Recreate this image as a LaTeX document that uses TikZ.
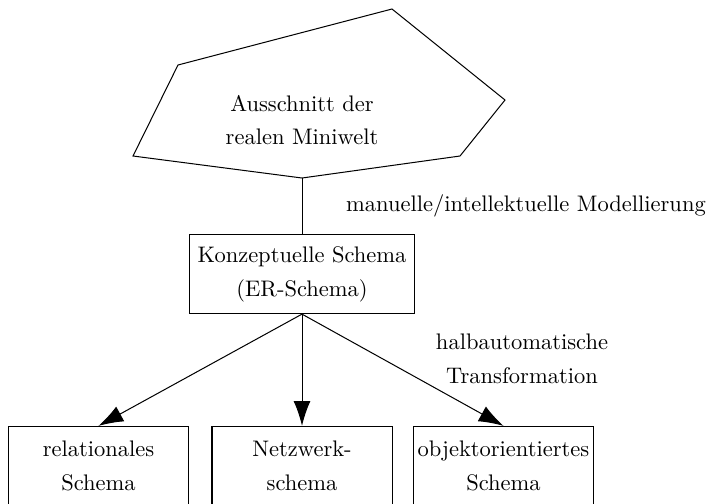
\documentclass[tikz,border=0pt]{standalone}
\usetikzlibrary{arrows.meta}
\begin{document}
\begin{tikzpicture}[x=0.4444pt,y=-0.4444pt, line width=0.45pt,
  box/.style={draw, minimum width=#1, minimum height=35.2pt, inner sep=0pt, align=center, font=\fontsize{10pt}{15pt}\selectfont},
  lbl/.style={align=center, inner sep=0pt, font=\fontsize{10pt}{15pt}\selectfont},
  arr/.style={-{Latex[length=11pt,width=7.5pt]}}]
\useasboundingbox (0,0) rectangle (710,503);
\clip (0,0) rectangle (710,503);
% polygon (Miniwelt)
\coordinate (pa) at (178,65);
\coordinate (pb) at (392,9);
\coordinate (pc) at (505,100);
\coordinate (pd) at (460,156);
\coordinate (pe) at (302,178);
\coordinate (pf) at (133,156);
\draw (pa) -- (pb) -- (pc) -- (pd) -- (pe) -- (pf) -- cycle;
\node[lbl] (mw) at (302,120) {Ausschnitt der\\realen Miniwelt};
% boxes
\node[box=100.4pt] (k) at (302,274) {Konzeptuelle Schema\\(ER-Schema)};
\node[box=80.4pt] (r) at (98.5,466) {relationales\\Schema};
\node[box=80pt] (n) at (302,466) {Netzwerk-\\schema};
\node[box=79.6pt] (o) at (503.5,466) {objektorientiertes\\Schema};
% labels
\node[lbl] (l1) at (526,206) {manuelle/intellektuelle Modellierung};
\node[lbl] (l2) at (522,359) {halbautomatische\\Transformation};
% connectors
\draw (pe) -- (k.north);
\draw[arr] (k.south) -- (r.north);
\draw[arr] (k.south) -- (n.north);
\draw[arr] (k.south) -- (o.north);
\end{tikzpicture}
\end{document}
